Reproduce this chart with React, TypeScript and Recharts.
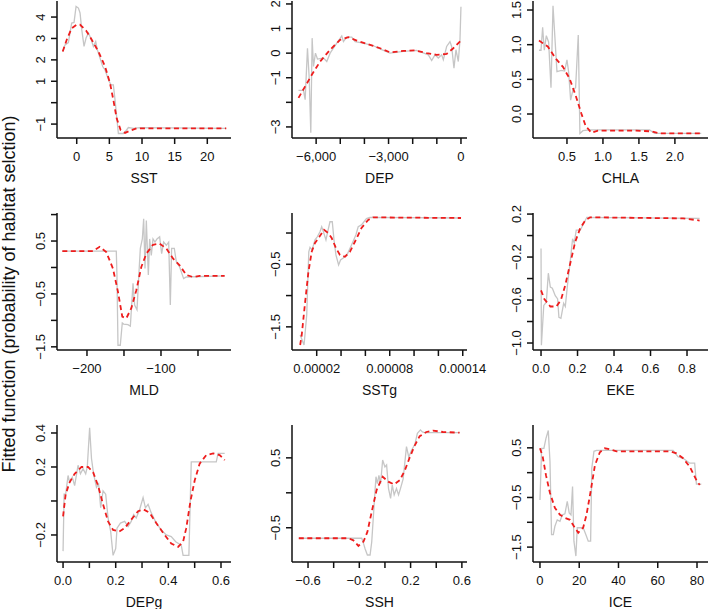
import React from "react";
import { LineChart, Line, XAxis, YAxis, Label } from "recharts";

type Pt = [number, number];

// ---- SST ----
const sstRaw: Pt[] = [
  [-2.14, 2.39], [-1.79, 2.7], [-1.28, 2.81], [-0.77, 3.72], [-0.41, 3.75], [-0.1, 4.5],
  [0.26, 4.42], [0.51, 4.19], [0.77, 3.41], [1.12, 2.63], [1.43, 3.02], [1.79, 3.25],
  [2.14, 3.02], [2.55, 2.63], [2.91, 2.86], [3.16, 2.47], [3.57, 2.08], [3.98, 1.69],
  [4.34, 1.53], [4.69, 1.22], [5.0, 0.98], [5.26, 0.83], [5.61, 0.83], [5.87, 0.13],
  [6.12, -0.66], [6.38, -1.44], [7.14, -1.44], [7.55, -1.31], [7.91, -1.16], [8.67, -1.2],
  [9.69, -1.17], [22.9, -1.2],
];
const sstFit: Pt[] = [
  [-2.14, 2.39], [-1.53, 2.94], [-0.77, 3.48], [0, 3.64], [0.51, 3.64], [1.43, 3.37],
  [2.3, 2.94], [3.32, 2.39], [4.34, 1.69], [5.1, 0.91], [5.61, 0.13], [6.12, -0.73],
  [6.73, -1.28], [7.4, -1.41], [8.16, -1.31], [9.18, -1.2], [22.9, -1.2],
];
const sstXTicks = [0, 5, 10, 15, 20];
const sstXLabels = ["0", "5", "10", "15", "20"];
const sstYTicks = [-1, 0, 1, 2, 3, 4];
const sstYLabels = ["\u22121", "", "1", "2", "3", "4"];

// ---- DEP ----
const depRaw: Pt[] = [
  [-6731, -1.51], [-6524, -1.51], [-6455, -1.89], [-6359, 0.2], [-6290, -0.95], [-6221, -3.24],
  [-6166, 0.61], [-6110, -0.54], [-6028, 0.0], [-5945, -0.24], [-5697, -0.2], [-5559, -0.34],
  [-5421, 0.0], [-5145, 0.41], [-4938, 0.7], [-4869, 0.47], [-4731, 0.65], [-4524, 0.65],
  [-4386, 0.47], [-4041, 0.41], [-3628, 0.3], [-3283, 0.14], [-2938, 0.0], [-2386, 0.07],
  [-1834, 0.11], [-1352, -0.07], [-1214, -0.3], [-1076, -0.07], [-938, -0.2], [-800, -0.07],
  [-731, -0.27], [-593, 0.27], [-455, 0.47], [-386, 0.27], [-290, -0.61], [-207, 0.14],
  [-110, -0.34], [-41, 0.54], [0, 1.89],
];
const depFit: Pt[] = [
  [-6731, -1.82], [-6455, -1.35], [-6179, -0.88], [-5834, -0.34], [-5421, 0.14], [-5007, 0.54],
  [-4662, 0.65], [-4317, 0.51], [-3766, 0.34], [-3352, 0.2], [-2938, 0.03], [-2386, 0.09],
  [-1903, 0.11], [-1421, 0.0], [-1007, -0.07], [-593, -0.03], [-317, 0.2], [0, 0.51],
];
const depXTicks = [-6000, -5000, -4000, -3000, -2000, -1000, 0];
const depXLabels = ["\u22126,000", "", "", "\u22123,000", "", "", "0"];
const depYTicks = [-3, -2, -1, 0, 1, 2];
const depYLabels = ["\u22123", "", "\u22121", "0", "1", "2"];

// ---- CHLA ----
const chlaRaw: Pt[] = [
  [0.111, 0.92], [0.139, 0.92], [0.162, 1.25], [0.185, 0.92], [0.213, 1.13], [0.245, 1.04],
  [0.278, 0.38], [0.306, 1.56], [0.361, 0.61], [0.421, 0.63], [0.468, 0.62], [0.5, 0.78],
  [0.523, 0.61], [0.551, 0.2], [0.583, 0.35], [0.62, 0.38], [0.657, 1.14], [0.68, -0.28],
  [0.722, -0.24], [0.815, -0.23], [1.648, -0.23], [1.718, -0.28], [2.366, -0.28],
];
const chlaFit: Pt[] = [
  [0.111, 1.06], [0.236, 0.97], [0.343, 0.8], [0.444, 0.68], [0.537, 0.51], [0.62, 0.27],
  [0.699, 0.01], [0.759, -0.17], [0.838, -0.27], [0.931, -0.24], [1.463, -0.24], [1.671, -0.25],
  [1.787, -0.28], [2.366, -0.28],
];
const chlaXTicks = [0.5, 1.0, 1.5, 2.0];
const chlaXLabels = ["0.5", "1.0", "1.5", "2.0"];
const chlaYTicks = [0, 0.5, 1.0, 1.5];
const chlaYLabels = ["0.0", "0.5", "1.0", "1.5"];

// ---- MLD ----
const mldRaw: Pt[] = [
  [-233.3, 0.31], [-160.4, 0.31], [-159.5, -0.14], [-158.1, -1.47], [-155, -1.47], [-152.3, -1.05],
  [-150.5, -1.07], [-144.6, -1.08], [-141.4, -1.11], [-137.8, -0.3], [-135.6, -0.71], [-132.4, -0.8],
  [-129.7, -0.08], [-127.9, 0.36], [-125.2, 0.54], [-123.4, 0.92], [-121.6, -0.02], [-119.8, 0.89],
  [-117.1, -0.14], [-115.3, 0.54], [-113.1, 0.23], [-110.8, 0.54], [-108.1, 0.48], [-105.4, 0.54],
  [-101.8, 0.58], [-99.1, 0.26], [-96.4, 0.48], [-92.8, 0.42], [-89.6, 0.48], [-87.4, -0.71],
  [-85.6, 0.36], [-82, 0.36], [-79.3, 0.11], [-74.8, 0.01], [-69.4, -0.21], [-65.8, -0.18],
  [-14, -0.16],
];
const mldFit: Pt[] = [
  [-233.3, 0.31], [-191.9, 0.31], [-182.9, 0.39], [-173.9, 0.29], [-164.9, -0.02], [-158.1, -0.46],
  [-152.3, -0.93], [-146.8, -0.96], [-140.1, -0.77], [-133.3, -0.43], [-126.6, 0.01], [-119.8, 0.26],
  [-110.8, 0.43], [-101.8, 0.45], [-92.8, 0.36], [-83.8, 0.17], [-74.8, 0.04], [-65.8, -0.14],
  [-56.8, -0.18], [-47.7, -0.16], [-14, -0.16],
];
const mldXTicks = [-200, -150, -100, -50];
const mldXLabels = ["\u2212200", "", "\u2212100", ""];
const mldYTicks = [-1.5, -1, -0.5, 0, 0.5, 1];
const mldYLabels = ["\u22121.5", "", "\u22120.5", "", "0.5", ""];

// ---- SSTg ----
const sstgRaw: Pt[] = [
  [0.64e-5, -1.63], [0.96e-5, -1.79], [1.18e-5, -1.31], [1.35e-5, -0.3], [1.45e-5, -0.23],
  [1.62e-5, -0.27], [1.86e-5, -0.11], [2.05e-5, -0.06], [2.27e-5, 0.02], [2.41e-5, 0.1],
  [2.55e-5, 0.02], [2.76e-5, -0.11], [2.9e-5, 0.02], [3.09e-5, 0.18], [3.28e-5, 0.18],
  [3.42e-5, -0.11], [3.58e-5, -0.35], [3.8e-5, -0.51], [3.96e-5, -0.43], [4.18e-5, -0.4],
  [4.51e-5, -0.34], [4.86e-5, -0.19], [5.22e-5, -0.03], [5.41e-5, 0.1], [5.68e-5, 0.13],
  [6.09e-5, 0.23], [6.36e-5, 0.25], [13.86e-5, 0.24],
];
const sstgFit: Pt[] = [
  [0.64e-5, -1.79], [0.77e-5, -1.63], [1.05e-5, -1.1], [1.32e-5, -0.62], [1.59e-5, -0.3],
  [1.86e-5, -0.16], [2.22e-5, -0.06], [2.6e-5, 0.05], [2.95e-5, 0.0], [3.23e-5, -0.08],
  [3.58e-5, -0.24], [3.91e-5, -0.35], [4.32e-5, -0.38], [4.73e-5, -0.3], [5.14e-5, -0.14],
  [5.68e-5, 0.08], [6.23e-5, 0.21], [6.64e-5, 0.25], [13.86e-5, 0.24],
];
const sstgXTicks = [2e-5, 4e-5, 6e-5, 8e-5, 10e-5, 12e-5, 14e-5];
const sstgXLabels = ["0.00002", "", "", "0.00008", "", "", "0.00014"];
const sstgYTicks = [-1.5, -1, -0.5, 0];
const sstgYLabels = ["\u22121.5", "", "\u22120.5", ""];

// ---- EKE ----
const ekeRaw: Pt[] = [
  [0, -0.12], [0.002, -1.02], [0.015, -0.65], [0.029, -0.62], [0.04, -0.35], [0.051, -0.48],
  [0.062, -0.49], [0.078, -0.56], [0.091, -0.59], [0.098, -0.76], [0.109, -0.77], [0.124, -0.63],
  [0.133, -0.66], [0.145, -0.46], [0.16, -0.24], [0.173, -0.03], [0.182, -0.07], [0.193, 0.05],
  [0.215, 0.05], [0.242, 0.14], [0.251, 0.17], [0.869, 0.16],
];
const ekeFit: Pt[] = [
  [0, -0.51], [0.018, -0.59], [0.051, -0.66], [0.084, -0.66], [0.109, -0.6], [0.133, -0.46],
  [0.16, -0.26], [0.187, -0.06], [0.215, 0.07], [0.242, 0.14], [0.269, 0.17], [0.778, 0.16],
  [0.869, 0.14],
];
const ekeXTicks = [0, 0.2, 0.4, 0.6, 0.8];
const ekeXLabels = ["0.0", "0.2", "0.4", "0.6", "0.8"];
const ekeYTicks = [-1.0, -0.8, -0.6, -0.4, -0.2, 0, 0.2];
const ekeYLabels = ["\u22121.0", "", "\u22120.6", "", "\u22120.2", "", "0.2"];

// ---- DEPg ----
const depgRaw: Pt[] = [
  [0, -0.295], [0.004, 0.04], [0.01, 0.04], [0.019, 0.15], [0.025, 0.11], [0.035, 0.14],
  [0.044, 0.09], [0.057, 0.21], [0.066, 0.16], [0.076, 0.19], [0.086, 0.16], [0.092, 0.2],
  [0.101, 0.43], [0.108, 0.25], [0.116, 0.16], [0.127, 0.08], [0.135, 0.1], [0.143, -0.04],
  [0.152, 0.06], [0.162, 0.04], [0.171, -0.1], [0.181, -0.18], [0.19, -0.32], [0.2, -0.28],
  [0.205, -0.16], [0.218, -0.13], [0.234, -0.12], [0.247, -0.15], [0.259, -0.12], [0.268, -0.08],
  [0.278, -0.1], [0.291, -0.05], [0.304, 0.02], [0.313, -0.04], [0.323, -0.02], [0.335, -0.07],
  [0.354, -0.13], [0.373, -0.17], [0.392, -0.2], [0.411, -0.21], [0.428, -0.24], [0.449, -0.26],
  [0.456, -0.32], [0.478, -0.32], [0.487, 0.23], [0.582, 0.23], [0.589, 0.28], [0.614, 0.28],
];
const depgFit: Pt[] = [
  [0, -0.09], [0.01, 0.04], [0.025, 0.11], [0.044, 0.16], [0.07, 0.2], [0.095, 0.2],
  [0.114, 0.17], [0.133, 0.09], [0.152, -0.02], [0.171, -0.12], [0.19, -0.17], [0.213, -0.18],
  [0.234, -0.16], [0.259, -0.11], [0.285, -0.06], [0.306, -0.05], [0.329, -0.07], [0.354, -0.13],
  [0.386, -0.2], [0.411, -0.25], [0.437, -0.27], [0.456, -0.24], [0.468, -0.16], [0.484, 0.0],
  [0.5, 0.12], [0.519, 0.22], [0.544, 0.27], [0.57, 0.28], [0.595, 0.27], [0.614, 0.24],
];
const depgXTicks = [0, 0.1, 0.2, 0.3, 0.4, 0.5, 0.6];
const depgXLabels = ["0.0", "", "0.2", "", "0.4", "", "0.6"];
const depgYTicks = [-0.2, 0, 0.2, 0.4];
const depgYLabels = ["\u22120.2", "", "0.2", "0.4"];

// ---- SSH ----
const sshRaw: Pt[] = [
  [-0.672, -0.65], [-0.181, -0.65], [-0.168, -0.72], [-0.155, -0.8], [-0.137, -0.89], [-0.116, -0.89],
  [-0.103, -0.7], [-0.078, 0.01], [-0.07, 0.23], [-0.059, 0.13], [-0.047, 0.25], [-0.034, 0.13],
  [-0.018, 0.47], [0, 0.37], [0.013, 0.4], [0.028, 0.06], [0.044, -0.08], [0.057, 0.11],
  [0.072, -0.03], [0.09, 0.06], [0.106, -0.03], [0.121, 0.06], [0.142, 0.2], [0.168, 0.66],
  [0.186, 0.51], [0.207, 0.61], [0.233, 0.69], [0.253, 0.85], [0.277, 0.9], [0.292, 0.87],
  [0.31, 0.86], [0.582, 0.86],
];
const sshFit: Pt[] = [
  [-0.672, -0.65], [-0.284, -0.65], [-0.246, -0.68], [-0.207, -0.76], [-0.168, -0.7], [-0.137, -0.56],
  [-0.103, -0.27], [-0.065, 0.04], [-0.018, 0.23], [0.026, 0.16], [0.072, 0.12], [0.116, 0.18],
  [0.155, 0.32], [0.194, 0.51], [0.233, 0.68], [0.271, 0.81], [0.323, 0.87], [0.375, 0.89],
  [0.452, 0.87], [0.582, 0.86],
];
const sshXTicks = [-0.6, -0.4, -0.2, 0, 0.2, 0.4, 0.6];
const sshXLabels = ["\u22120.6", "", "\u22120.2", "", "0.2", "", "0.6"];
const sshYTicks = [-0.5, 0, 0.5];
const sshYLabels = ["\u22120.5", "", "0.5"];

// ---- ICE ----
const iceRaw: Pt[] = [
  [0, -0.55], [0.85, 0.49], [2.0, 0.49], [3.05, 0.69], [4.24, 0.85], [5.1, 0.22], [5.9, -1.25],
  [6.8, -1.25], [7.6, -1.08], [8.8, -0.95], [10.2, -0.98], [11.4, -0.85], [12.7, -0.83],
  [13.9, -0.58], [14.9, -0.81], [15.8, -0.85], [16.6, -0.28], [17.3, -1.38], [18.3, -1.68],
  [19, -1.11], [22, -1.11], [23.4, -1.25], [24.6, -1.38], [25.8, -1.38], [26.4, 0.09],
  [27.5, 0.43], [28.8, 0.45], [67.8, 0.45], [70.3, 0.32], [72.9, 0.29], [76.3, 0.19],
  [78.8, 0.19], [79.7, -0.23], [82.2, -0.23],
];
const iceFit: Pt[] = [
  [0, 0.49], [1.4, 0.32], [3.05, -0.05], [5.1, -0.41], [7.6, -0.71], [10.2, -0.85], [12.7, -0.91],
  [15.3, -0.95], [17.3, -1.08], [19.5, -1.21], [22, -1.11], [23.7, -0.85], [25.8, -0.38],
  [28, 0.15], [30.5, 0.41], [33, 0.49], [35.6, 0.47], [39, 0.43], [66.1, 0.43], [69.5, 0.39],
  [72.9, 0.29], [76.3, 0.12], [79.7, -0.15], [81.4, -0.25],
];
const iceXTicks = [0, 20, 40, 60, 80];
const iceXLabels = ["0", "20", "40", "60", "80"];
const iceYTicks = [-1.5, -1, -0.5, 0, 0.5];
const iceYLabels = ["\u22121.5", "", "\u22120.5", "", "0.5"];

const FONT = '"Liberation Sans", Arial, Helvetica, sans-serif';
const GREY = "#c6c6c6";
const RED = "#ee1d1d";
const INK = "#111111";

const COL_LEFT = [57, 292, 533];
const COL_W = [174, 175, 175];
const ROW_TOP = [1, 213, 425];
const BOX_H = 137;
const Y_W = 50;
const X_H = 50;
const M_TOP = 16;
const M_RIGHT = 30;
const TICK = 6;
const FRAME = { stroke: INK, strokeWidth: 1.5 };

type Panel = {
  name: string;
  raw: Pt[];
  fit: Pt[];
  xDomain: [number, number];
  yDomain: [number, number];
  xTicks: number[];
  xLabels: string[];
  yTicks: number[];
  yLabels: string[];
};

const panels: Panel[] = [
  { name: "SST", raw: sstRaw, fit: sstFit, xDomain: [-3.02, 23.63], yDomain: [-1.65, 4.75], xTicks: sstXTicks, xLabels: sstXLabels, yTicks: sstYTicks, yLabels: sstYLabels },
  { name: "DEP", raw: depRaw, fit: depFit, xDomain: [-7000, 250], yDomain: [-3.45, 2.12], xTicks: depXTicks, xLabels: depXLabels, yTicks: depYTicks, yLabels: depYLabels },
  { name: "CHLA", raw: chlaRaw, fit: chlaFit, xDomain: [0.028, 2.46], yDomain: [-0.346, 1.63], xTicks: chlaXTicks, xLabels: chlaXLabels, yTicks: chlaYTicks, yLabels: chlaYLabels },
  { name: "MLD", raw: mldRaw, fit: mldFit, xDomain: [-240.5, -5.4], yDomain: [-1.56, 1.03], xTicks: mldXTicks, xLabels: mldXLabels, yTicks: mldYTicks, yLabels: mldYLabels },
  { name: "SSTg", raw: sstgRaw, fit: sstgFit, xDomain: [-3e-7, 14.35e-5], yDomain: [-1.87, 0.32], xTicks: sstgXTicks, xLabels: sstgXLabels, yTicks: sstgYTicks, yLabels: sstgYLabels },
  { name: "EKE", raw: ekeRaw, fit: ekeFit, xDomain: [-0.044, 0.915], yDomain: [-1.065, 0.21], xTicks: ekeXTicks, xLabels: ekeXLabels, yTicks: ekeYTicks, yLabels: ekeYLabels },
  { name: "DEPg", raw: depgRaw, fit: depgFit, xDomain: [-0.023, 0.638], yDomain: [-0.359, 0.447], xTicks: depgXTicks, xLabels: depgXLabels, yTicks: depgYTicks, yLabels: depgYLabels },
  { name: "SSH", raw: sshRaw, fit: sshFit, xDomain: [-0.725, 0.64], yDomain: [-0.99, 0.97], xTicks: sshXTicks, xLabels: sshXLabels, yTicks: sshYTicks, yLabels: sshYLabels },
  { name: "ICE", raw: iceRaw, fit: iceFit, xDomain: [-3.55, 85.6], yDomain: [-1.8, 0.96], xTicks: iceXTicks, xLabels: iceXLabels, yTicks: iceYTicks, yLabels: iceYLabels },
];

const toRows = (pts: Pt[]) => pts.map(([x, y]) => ({ x, y }));

function SmallPlot({ p, col, row }: { p: Panel; col: number; row: number }) {
  const boxW = COL_W[col];
  const left = COL_LEFT[col] - Y_W;
  const top = ROW_TOP[row] - M_TOP;

  // custom ticks draw their own tick mark, pointing outward from the box
  const xTick = (props: any) => {
    const i = p.xTicks.indexOf(props.payload.value);
    const txt = i >= 0 ? p.xLabels[i] : "";
    return (
      <g>
        <path d={`M${props.x},${props.y}V${props.y + TICK}`} stroke={INK} strokeWidth={1.5} fill="none" />
        <text x={props.x} y={props.y + 23} textAnchor="middle" fontSize={13} fill={INK} fontFamily={FONT}>
          {txt}
        </text>
      </g>
    );
  };
  const yTick = (props: any) => {
    const i = p.yTicks.indexOf(props.payload.value);
    const txt = i >= 0 ? p.yLabels[i] : "";
    return (
      <g>
        <path d={`M${props.x - TICK},${props.y}H${props.x}`} stroke={INK} strokeWidth={1.5} fill="none" />
        <text transform={`translate(${props.x - 12}, ${props.y}) rotate(-90)`} textAnchor="middle" fontSize={13} fill={INK} fontFamily={FONT}>
          {txt}
        </text>
      </g>
    );
  };

  return (
    <div style={{ position: "absolute", left, top }}>
      <LineChart
        width={Y_W + boxW + M_RIGHT}
        height={M_TOP + BOX_H + X_H}
        margin={{ top: M_TOP, right: M_RIGHT, bottom: 0, left: 0 }}
      >
        <XAxis
          type="number"
          dataKey="x"
          domain={p.xDomain}
          allowDataOverflow
          ticks={p.xTicks}
          interval={0}
          height={X_H}
          axisLine={FRAME}
          tickLine={false}
          tickSize={0}
          tickMargin={0}
          tick={xTick}
        >
          <Label value={p.name} position="insideBottom" offset={5} fontSize={14} fill={INK} fontFamily={FONT} />
        </XAxis>
        {/* top edge of the frame */}
        <XAxis
          xAxisId="top"
          orientation="top"
          type="number"
          dataKey="x"
          domain={p.xDomain}
          allowDataOverflow
          height={0}
          axisLine={FRAME}
          tickLine={false}
          tick={false}
        />
        <YAxis
          type="number"
          dataKey="y"
          domain={p.yDomain}
          allowDataOverflow
          ticks={p.yTicks}
          interval={0}
          width={Y_W}
          axisLine={FRAME}
          tickLine={false}
          tickSize={0}
          tickMargin={0}
          tick={yTick}
        />
        {/* right edge of the frame */}
        <YAxis
          yAxisId="right"
          orientation="right"
          type="number"
          dataKey="y"
          domain={p.yDomain}
          allowDataOverflow
          width={0}
          axisLine={FRAME}
          tickLine={false}
          tick={false}
        />
        <Line data={toRows(p.raw)} dataKey="y" type="linear" stroke={GREY} strokeWidth={1.3} dot={false} isAnimationActive={false} />
        <Line data={toRows(p.fit)} dataKey="y" type="linear" stroke={RED} strokeWidth={1.8} strokeDasharray="5 3.5" dot={false} isAnimationActive={false} />
      </LineChart>
    </div>
  );
}

export default function App() {
  return (
    <div style={{ position: "absolute", left: 0, top: 0, width: 709, height: 609, overflow: "hidden", background: "#fff", fontFamily: FONT }}>
      <svg width={30} height={609} style={{ position: "absolute", left: 0, top: 0 }}>
        <text transform="translate(15, 294) rotate(-90)" textAnchor="middle" fontSize={18} fill={INK} fontFamily={FONT}>
          Fitted function (probability of habitat selction)
        </text>
      </svg>
      {panels.map((p, i) => (
        <SmallPlot key={p.name} p={p} col={i % 3} row={Math.floor(i / 3)} />
      ))}
    </div>
  );
}
